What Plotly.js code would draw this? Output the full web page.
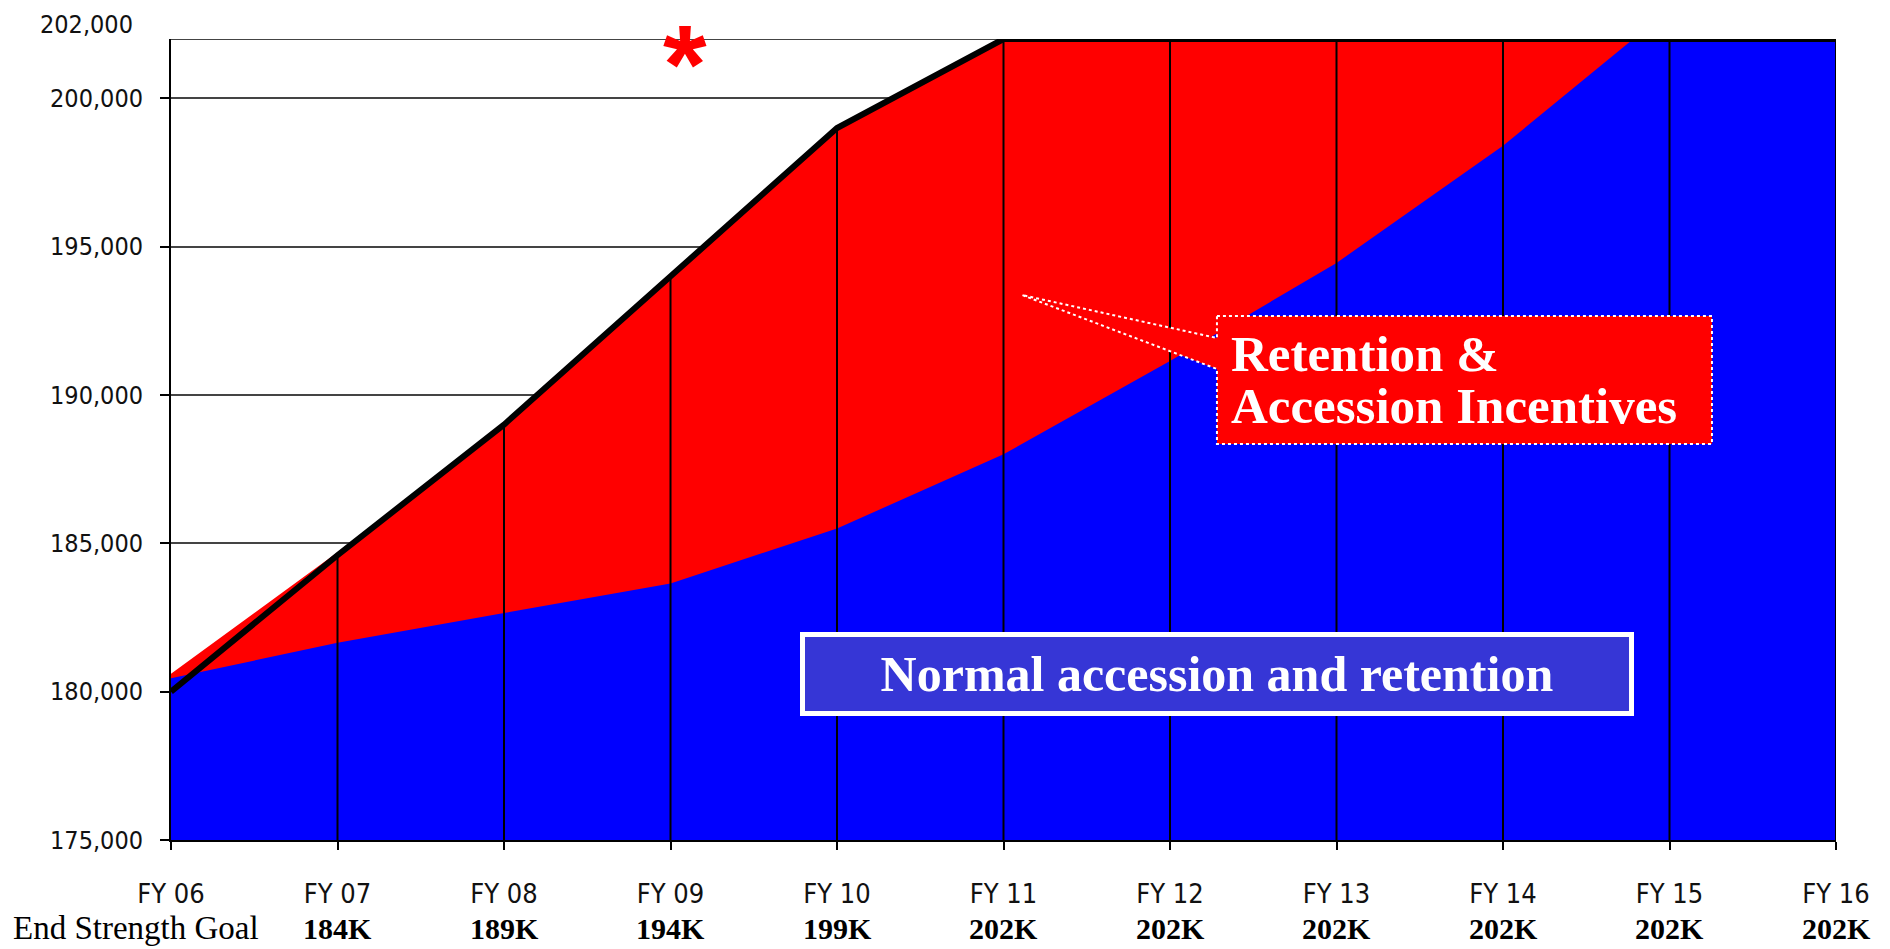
<!DOCTYPE html>
<html>
<head>
<meta charset="utf-8">
<script src="https://cdn.plot.ly/plotly-3.0.1.min.js"></script>
<style>
  html, body { margin: 0; padding: 0; background: #fff; }
  #chart { width: 1890px; height: 949px; }
</style>
</head>
<body>
<div id="chart"></div>
<script>
// ---- data ----
const fiscalYears = ['FY 06','FY 07','FY 08','FY 09','FY 10','FY 11','FY 12','FY 13','FY 14','FY 15','FY 16'];
const endStrengthGoal = [180000,184600,189000,194000,199000,202000,202000,202000,202000,202000,202000];
const incentivesTop   = [180600,184700,189050,194050,199050,202000,202000,202000,202000,202000,202000];
const normalTop       = [180450,181650,182650,183650,185500,188000,191150,194450,198400,203000,202000];
const goalLabels      = ['','184K','189K','194K','199K','202K','202K','202K','202K','202K','202K'];
const goalRowTitle    = 'End Strength Goal';
const yTickVals       = [175000,180000,185000,190000,195000,200000];
const yMin = 175000, yMax = 202000;
const topLabel = '202,000';

const narrow = '"DejaVu Sans Condensed", "Liberation Sans Narrow", "Liberation Sans", sans-serif';
const serif = '"Liberation Serif", "DejaVu Serif", serif';

// drop lines from the goal line down to the axis
const dropX = [], dropY = [];
for (let i = 1; i < fiscalYears.length; i++) {
  dropX.push(fiscalYears[i], fiscalYears[i], null);
  dropY.push(yMin, endStrengthGoal[i], null);
}

const traces = [
  { type:'scatter', mode:'lines', x:fiscalYears, y:incentivesTop, fill:'tozeroy',
    fillcolor:'#ff0000', line:{color:'#ff0000', width:0}, hoverinfo:'skip' },
  { type:'scatter', mode:'lines', x:fiscalYears, y:normalTop, fill:'tozeroy',
    fillcolor:'#0000ff', line:{color:'#0000ff', width:0}, hoverinfo:'skip' },
  { type:'scatter', mode:'lines', x:dropX, y:dropY, line:{color:'#000', width:2}, hoverinfo:'skip' },
  { type:'scatter', mode:'lines', x:fiscalYears, y:endStrengthGoal, cliponaxis:false,
    line:{color:'#000', width:6}, hoverinfo:'skip' }
];

const rowY = -0.1099;
const annotations = [];
for (let i = 1; i < fiscalYears.length; i++) {
  annotations.push({ xref:'x', yref:'paper', x:fiscalYears[i], y:rowY, xanchor:'center', yanchor:'middle',
    borderpad:0, text:'<b>' + goalLabels[i] + '</b>', showarrow:false, font:{family:serif, size:30, color:'#000'} });
}
annotations.push({ xref:'paper', yref:'paper', x:-0.0955, y:rowY, xanchor:'left', yanchor:'middle',
  borderpad:0, text:goalRowTitle, showarrow:false, font:{family:serif, size:33, color:'#000'} });
annotations.push({ xref:'paper', yref:'paper', x:-0.0216, y:1.0175, xanchor:'right', yanchor:'middle',
  text:topLabel, showarrow:false, font:{family:narrow, size:25, color:'#111'} });
annotations.push({ xref:'paper', yref:'paper', x:0.3087, y:1.006, xanchor:'center', yanchor:'middle', yshift:-30,
  text:'<b>*</b>', showarrow:false, font:{family:'"Liberation Sans", Arial, sans-serif', size:112, color:'#ff0000'} });
annotations.push({ xref:'paper', yref:'paper', x:0.6282, y:0.2072, xanchor:'center', yanchor:'middle',
  text:'<b>Normal accession and retention</b>', showarrow:false, width:824, height:74,
  bgcolor:'#3636d6', bordercolor:'#ffffff', borderwidth:5, borderpad:0,
  font:{family:serif, size:50, color:'#ffffff'} });
annotations.push({ xref:'paper', yref:'paper', x:0.6354, y:0.6067, xanchor:'left', yanchor:'middle',
  text:'<b>Retention &amp;</b>', showarrow:false, font:{family:serif, size:51, color:'#ffffff'} });
annotations.push({ xref:'paper', yref:'paper', x:0.6354, y:0.5418, xanchor:'left', yanchor:'middle',
  text:'<b>Accession Incentives</b>', showarrow:false, font:{family:serif, size:51, color:'#ffffff'} });

const layout = {
  width:1890, height:949,
  margin:{l:171, r:54, t:39, b:109},
  paper_bgcolor:'#ffffff', plot_bgcolor:'#ffffff',
  showlegend:false,
  xaxis:{ type:'category', range:[0, fiscalYears.length - 1], showgrid:false, zeroline:false,
    showline:true, linecolor:'#000', linewidth:2,
    ticks:'outside', ticklen:8, tickwidth:2, tickcolor:'#000', ticklabelstandoff:21,
    tickfont:{family:narrow, size:27, color:'#111'} },
  yaxis:{ range:[yMin, yMax], tickvals:yTickVals, tickformat:',d', showgrid:true,
    gridcolor:'#444', gridwidth:2, zeroline:false,
    showline:true, linecolor:'#000', linewidth:2,
    ticks:'outside', ticklen:9, tickwidth:2, tickcolor:'#000', ticklabelstandoff:12,
    tickfont:{family:narrow, size:25, color:'#111'} },
  shapes:[
    { type:'line', xref:'paper', yref:'y', x0:0, x1:1, y0:yMax, y1:yMax, layer:'below',
      line:{color:'#444', width:2} },
    { type:'path', xref:'paper', yref:'paper', layer:'above',
      path:'M 0.6282 0.6542 L 0.9255 0.6542 L 0.9255 0.4944 L 0.6282 0.4944 L 0.6282 0.5880 L 0.5111 0.6804 L 0.6282 0.6267 Z',
      fillcolor:'#ff0000', line:{color:'#ffffff', width:2, dash:'dot'} }
  ],
  annotations:annotations
};

Plotly.newPlot('chart', traces, layout, {staticPlot:true, displayModeBar:false});
</script>
</body>
</html>
